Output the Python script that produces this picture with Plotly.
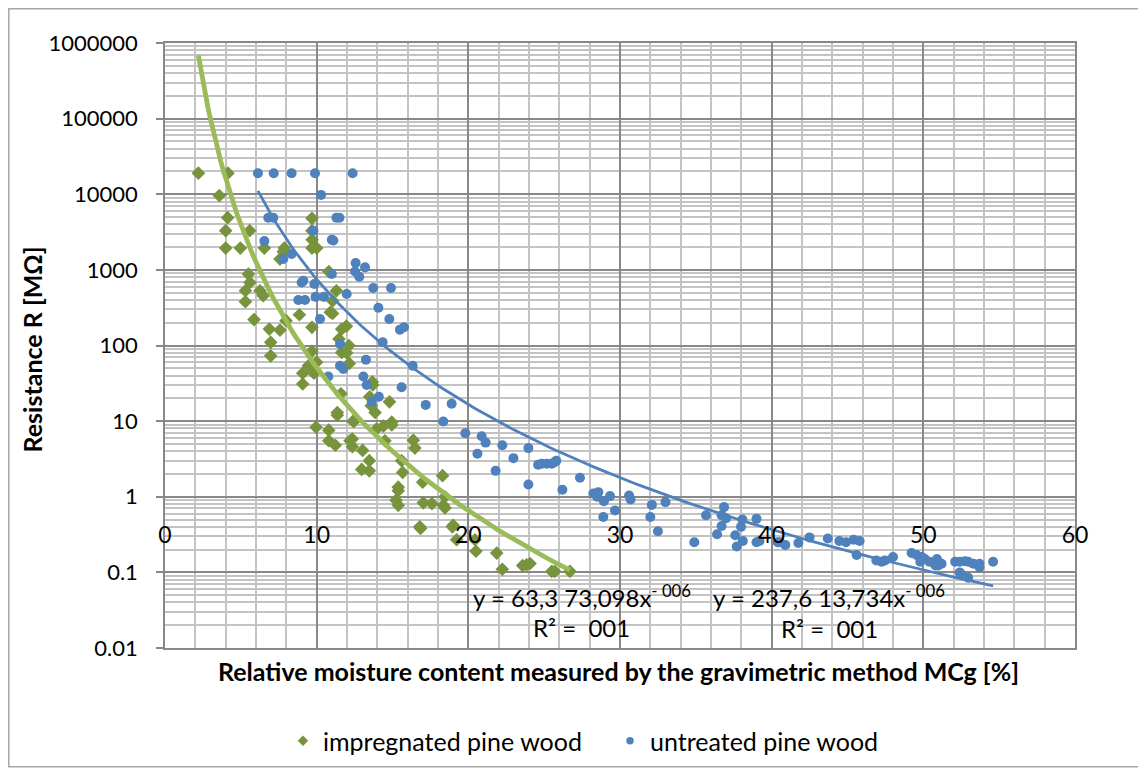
import numpy as np
import plotly.graph_objects as go

# ---------------- data ----------------
imp_x = [2.2, 4.15, 3.58, 4.13, 4.0, 5.58, 4.0, 4.97, 6.55, 7.87, 7.8, 7.58, 9.69, 9.69, 9.7, 9.69, 10.0,
         10.8, 5.5, 5.6, 5.3, 5.3, 6.26, 6.48, 5.87, 6.88, 7.58, 6.97, 6.97, 7.98, 8.86, 9.69, 11.3, 11.05,
         10.9, 11.05, 11.65, 11.96, 11.47, 12.13, 11.65, 11.98, 12.15, 9.69, 9.45, 10.0, 9.08, 9.82, 9.08,
         11.6, 11.36, 11.36, 9.96, 10.8, 10.8, 11.23, 12.2, 12.46, 13.67, 13.7, 13.5, 13.6, 13.85, 14.8,
         12.4, 13.96, 14.4, 14.95, 14.95, 12.35, 12.35, 13.03, 13.47, 12.97, 13.47, 14.5, 16.37, 16.48,
         15.6, 15.67, 15.38, 15.38, 15.23, 15.38, 16.99, 17.03, 17.6, 16.8, 16.85, 18.3, 18.46, 18.35,
         18.46, 19.0, 18.95, 19.23, 20.44, 20.5, 21.87, 22.24, 23.58, 23.84, 24.07, 25.5, 25.7, 26.7]
imp_y = [19000, 19000, 9600, 4900, 3300, 3300, 1940, 1940, 1940, 1940, 1740, 1390, 4800, 3300, 2500, 1940, 1940,
         950, 880, 680, 530, 380, 530, 455, 220, 165, 160, 110, 73, 213, 255, 174, 530, 390,
         275, 265, 165, 180, 122, 100, 81, 80, 58, 84, 54, 60, 43, 43, 31,
         23, 13, 12, 8.3, 7.6, 5.5, 4.8, 5.5, 9.9, 33, 30, 21, 16, 13, 18,
         10, 7.9, 8.6, 9.7, 8.9, 5.8, 4.6, 4.1, 3.0, 2.3, 2.2, 5.5, 5.6, 4.4,
         3.0, 2.1, 1.34, 1.2, 0.9, 0.77, 1.56, 0.83, 0.81, 0.40, 0.38, 1.9, 1.0, 0.77,
         0.71, 0.42, 0.40, 0.27, 0.27, 0.19, 0.18, 0.11, 0.123, 0.126, 0.131, 0.103, 0.103, 0.103]

unt_x = [6.13, 7.17, 8.35, 9.89, 12.37, 10.29, 6.81, 7.14, 11.3, 11.5, 9.78, 11.0, 11.1, 6.55, 8.35, 7.8,
         11.0, 9.12, 9.01, 9.85, 11.98, 8.79, 9.23, 9.93, 10.48, 10.22, 11.54, 11.54, 11.76, 10.77, 12.57,
         13.19, 12.53, 12.81, 13.73, 14.9, 14.07, 14.79, 15.49, 15.76, 14.35, 16.33, 13.25, 13.08, 13.3,
         13.63, 14.1, 15.6, 17.19, 18.9, 18.35, 19.8, 20.88, 21.14, 20.6, 22.24, 21.8, 22.97, 23.96, 23.96,
         24.6, 24.84, 25.17, 25.5, 25.7, 25.8, 26.2, 27.36, 28.24, 28.57, 28.5, 28.94, 29.34, 28.9, 29.67,
         30.6, 30.7, 32.1, 32.0, 32.5, 33.0, 34.9, 35.67, 36.4, 36.7, 36.86, 36.7, 37.0, 37.6, 37.7, 38.1,
         37.98, 38.07, 39.0, 39.0, 39.2, 40.4, 40.55, 40.9, 41.76, 42.5, 43.7, 44.46, 44.9, 45.4, 45.8,
         45.6, 46.9, 47.25, 47.47, 48.0, 49.23, 49.56, 49.9, 50.1, 49.8, 50.4, 50.9, 50.98, 51.2, 50.8,
         52.1, 52.4, 52.75, 52.96, 53.3, 52.4, 52.6, 52.96, 53.7, 53.7, 54.6]
unt_y = [19000, 19000, 19000, 19000, 19000, 9800, 4900, 4900, 4900, 4900, 3300, 2500, 2450, 2400, 1620, 1390,
         880, 720, 680, 650, 480, 400, 400, 440, 440, 224, 105, 54, 49, 39, 1230,
         1080, 950, 810, 575, 575, 315, 224, 162, 174, 110, 54, 65, 39, 30,
         18, 21, 28, 16.4, 17, 9.9, 6.9, 6.3, 5.2, 3.7, 4.8, 2.2, 3.24, 4.4, 1.45,
         2.65, 2.73, 2.73, 2.73, 2.87, 3.0, 1.24, 1.78, 1.1, 1.15, 1.0, 0.87, 1.02, 0.54, 0.66,
         1.04, 0.92, 0.78, 0.54, 0.35, 0.85, 0.25, 0.57, 0.32, 0.57, 0.73, 0.41, 0.52, 0.31, 0.22, 0.26,
         0.40, 0.50, 0.51, 0.25, 0.26, 0.25, 0.25, 0.23, 0.245, 0.29, 0.28, 0.26, 0.25, 0.27, 0.26,
         0.17, 0.144, 0.138, 0.144, 0.16, 0.18, 0.17, 0.16, 0.15, 0.138, 0.138, 0.15, 0.123, 0.13, 0.123,
         0.138, 0.138, 0.14, 0.138, 0.13, 0.10, 0.091, 0.085, 0.117, 0.13, 0.138]

# power trend-line coefficients (y = a * x^b)
imp_trend_a, imp_trend_b = 9.7e7, -6.28
unt_trend_a, unt_trend_b = 237613734.0, -5.5

x_ticks = [0, 10, 20, 30, 40, 50, 60]
y_ticks = [0.01, 0.1, 1, 10, 100, 1000, 10000, 100000, 1000000]
y_tick_labels = ["0.01", "0.1", "1", "10", "100", "1000", "10000", "100000", "1000000"]

series_names = ["impregnated pine wood", "untreated pine wood"]
imp_eq = ["y = 63,3 73,098x<sup>-\u00a0006</sup>", "R² =\u00a0\u00a0001"]
unt_eq = ["y = 237,6 13,734x<sup>-\u00a0006</sup>", "R² =\u00a0\u00a0001"]

# ---------------- styling ----------------
GREEN_PT = "#77933C"
GREEN_LN = "#9BBB59"
BLUE = "#4F81BD"
MAJOR = "#888888"
MINOR = "#C3C3C3"
FONT = "Lato"

# the page has an 8px body margin: figure coords = screen coords - 8
OFF = 8
W, H = 1146 - OFF, 775 - OFF
L, T = 165 - OFF, 43 - OFF
R = W - (1075 - OFF)
B = H - (649 - OFF)
PW, PH = W - L - R, H - T - B


def px(xs):  # screen x -> paper
    return (xs - OFF - L) / PW


def py(ys):  # screen y -> paper
    return (H - B - (ys - OFF)) / PH


def trend(xs, a, b):
    xx = np.linspace(min(xs), max(xs), 200)
    return xx, a * xx ** b


fig = go.Figure()
fig.add_trace(go.Scatter(x=imp_x, y=imp_y, mode="markers", name=series_names[0], showlegend=False,
                         legendgroup="imp", marker=dict(symbol="diamond", size=10.5, color=GREEN_PT)))
fig.add_trace(go.Scatter(x=unt_x, y=unt_y, mode="markers", name=series_names[1], showlegend=False,
                         legendgroup="unt", marker=dict(symbol="circle", size=10, color=BLUE)))

gx, gy = trend(imp_x, imp_trend_a, imp_trend_b)
bx, by = trend(unt_x, unt_trend_a, unt_trend_b)
fig.add_trace(go.Scatter(x=gx, y=gy, mode="lines", line=dict(color=GREEN_LN, width=4.8),
                         showlegend=False, hoverinfo="skip"))
fig.add_trace(go.Scatter(x=bx, y=by, mode="lines", line=dict(color=BLUE, width=2.8),
                         showlegend=False, hoverinfo="skip"))

# legend entries (small symbols, as in the original legend)
fig.add_trace(go.Scatter(x=[None], y=[None], mode="markers", name=series_names[0], legendgroup="imp",
                         marker=dict(symbol="diamond", size=8, color=GREEN_PT)))
fig.add_trace(go.Scatter(x=[None], y=[None], mode="markers", name=series_names[1], legendgroup="unt",
                         marker=dict(symbol="circle", size=7.5, color=BLUE)))

minor_y = [m * 10.0 ** e for e in range(-2, 6) for m in range(2, 10)]

fig.update_layout(
    width=W, height=H,
    margin=dict(l=L, r=R, t=T, b=B),
    paper_bgcolor="white", plot_bgcolor="white",
    font=dict(family=FONT, size=22, color="black"),
    showlegend=True,
    legend=dict(orientation="h", x=px(283), xanchor="left", y=py(741), yanchor="middle",
                font=dict(family=FONT, size=25, color="black"), itemsizing="trace",
                itemwidth=30, entrywidth=282, entrywidthmode="pixels", tracegroupgap=0),
    xaxis=dict(range=[0, 60], tickvals=x_ticks, showticklabels=False, ticks="",
               showgrid=True, gridcolor=MAJOR, gridwidth=1.5,
               minor=dict(dtick=2, showgrid=True, gridcolor=MINOR, gridwidth=1.5, ticks=""),
               showline=True, linecolor=MAJOR, linewidth=1.5, mirror=True, zeroline=False),
    xaxis2=dict(range=[0, 60], overlaying="x", anchor="free", position=0.214, matches="x",
                tickvals=x_ticks, ticktext=[str(v) for v in x_ticks], showgrid=False,
                showline=False, ticks="", zeroline=False,
                tickfont=dict(family=FONT, size=23, color="black")),
    yaxis=dict(type="log", range=[-2, 6], tickmode="array", tickvals=y_ticks, ticktext=y_tick_labels,
               ticks="outside", ticklen=7, tickcolor=MAJOR, tickwidth=1.5, ticklabelstandoff=14,
               showgrid=True, gridcolor=MAJOR, gridwidth=1.5,
               minor=dict(tickvals=minor_y, showgrid=True, gridcolor=MINOR, gridwidth=1.5, ticks=""),
               showline=True, linecolor=MAJOR, linewidth=1.5, mirror=True, zeroline=False,
               tickfont=dict(family=FONT, size=22, color="black")),
)

# invisible trace so that the x tick-label axis (at y = 1) renders
fig.add_trace(go.Scatter(x=[0], y=[1], xaxis="x2", mode="markers", marker=dict(opacity=0),
                         showlegend=False, hoverinfo="skip"))

annos = [
    dict(text="<b>Relative moisture content measured by the gravimetric method MCg [%]</b>",
         x=px(618), y=py(672), size=25, angle=0),
    dict(text="<b>Resistance R [MΩ]</b>", x=px(32), y=py(350), size=25, angle=-90),
    dict(text=imp_eq[0], x=px(582), y=py(597), size=24, angle=0),
    dict(text=imp_eq[1], x=px(581), y=py(628), size=24, angle=0),
    dict(text=unt_eq[0], x=px(829), y=py(597), size=24, angle=0),
    dict(text=unt_eq[1], x=px(829), y=py(629), size=24, angle=0),
]
for a in annos:
    fig.add_annotation(xref="paper", yref="paper", showarrow=False, xanchor="center", yanchor="middle",
                       text=a["text"], x=a["x"], y=a["y"], textangle=a["angle"],
                       font=dict(family=FONT, color="black", size=a["size"]))

fig.add_shape(type="rect", xref="paper", yref="paper", x0=px(8.8), x1=px(1139), y0=py(768), y1=py(8.8),
              line=dict(color="#A6A6A6", width=1.5), layer="below")

fig.write_html("out.html")
